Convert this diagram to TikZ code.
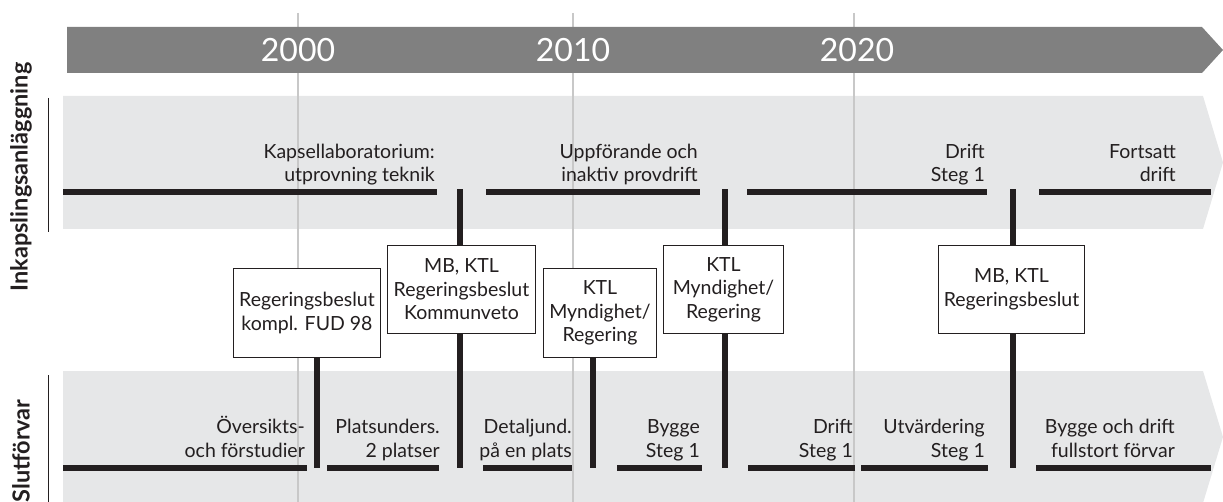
\documentclass[tikz,border=0pt]{standalone}
\usepackage{fontspec}
\setmainfont{Lato}
\definecolor{darkband}{HTML}{808080}
\definecolor{lightband}{HTML}{E6E7E8}
\definecolor{gridgray}{HTML}{C8C8C8}
\definecolor{ink}{HTML}{231F20}
\begin{document}
\begin{tikzpicture}[x=1pt,y=-1pt,
  bar/.style={line width=6pt, ink},
  conn/.style={line width=6pt, ink},
  grid/.style={gridgray, line width=1.3pt},
  box/.style={draw=ink, line width=1.3pt, fill=white, align=center, inner sep=0pt, text=ink, font=\fontsize{19.5}{23.5}\selectfont},
  lbl/.style={anchor=base east, inner sep=0pt, text=ink, font=\fontsize{19.5}{23.5}\selectfont},
  year/.style={white, inner sep=0pt, font=\fontsize{32}{36}\selectfont},
  side/.style={rotate=90, inner sep=0pt, text=ink, font=\bfseries\fontsize{23.5}{26}\selectfont}]
\useasboundingbox (0,0) rectangle (1223,502);
% bands
\fill[lightband] (63,96) -- (1203,96) -- (1223,162.5) -- (1203,229) -- (63,229) -- cycle;
\fill[lightband] (63,371) -- (1203,371) -- (1223,437) -- (1203,503) -- (63,503) -- cycle;
% year grid lines
\draw[grid] (298,13) -- (298,502);
\draw[grid] (573,13) -- (573,502);
\draw[grid] (854,13) -- (854,502);
% time arrow
\fill[darkband] (67,27) -- (1202,27) -- (1223,50) -- (1202,73) -- (67,73) -- cycle;
\node[year] (y2000) at (298,50) {2000};
\node[year] (y2010) at (573,50) {2010};
\node[year] (y2020) at (857,50) {2020};
% side labels
\node[side] (sideA) at (21,177) {Inkapslingsanläggning};
\node[side] (sideB) at (21,451) {Slutförvar};
\draw[ink, line width=1pt] (48,98) -- (48,232);
\draw[ink, line width=1pt] (48,375) -- (48,502);
% upper bars
\draw[bar] (63,192) -- (437,192);
\draw[bar] (486,192) -- (700,192);
\draw[bar] (747,192) -- (987,192);
\draw[bar] (1039,192) -- (1211,192);
% lower bars
\draw[bar] (63,468) -- (307,468);
\draw[bar] (327,468) -- (439,468);
\draw[bar] (483,468) -- (572,468);
\draw[bar] (617,468) -- (702,468);
\draw[bar] (748,468) -- (855,468);
\draw[bar] (861,468) -- (988,468);
\draw[bar] (1036,468) -- (1211,468);
% upper labels
\node[lbl] (u1) at (435,182) {\begin{tabular}[b]{@{}r@{}}Kapsellaboratorium:\\utprovning teknik\end{tabular}};
\node[lbl] (u2) at (698,182) {\begin{tabular}[b]{@{}r@{}}Uppförande och\\inaktiv provdrift\end{tabular}};
\node[lbl] (u3) at (985,182) {\begin{tabular}[b]{@{}r@{}}Drift\\Steg 1\end{tabular}};
\node[lbl] (u4) at (1176,182) {\begin{tabular}[b]{@{}r@{}}Fortsatt\\drift\end{tabular}};
% lower labels
\node[lbl] (l1) at (305,457) {\begin{tabular}[b]{@{}r@{}}Översikts-\\och förstudier\end{tabular}};
\node[lbl] (l2) at (440,457) {\begin{tabular}[b]{@{}r@{}}Platsunders.\\2 platser\end{tabular}};
\node[lbl] (l3) at (572,457) {\begin{tabular}[b]{@{}r@{}}Detaljund.\\på en plats\end{tabular}};
\node[lbl] (l4) at (700,457) {\begin{tabular}[b]{@{}r@{}}Bygge\\Steg 1\end{tabular}};
\node[lbl] (l5) at (853,457) {\begin{tabular}[b]{@{}r@{}}Drift\\Steg 1\end{tabular}};
\node[lbl] (l6) at (985,457) {\begin{tabular}[b]{@{}r@{}}Utvärdering\\Steg 1\end{tabular}};
\node[lbl] (l7) at (1175,457) {\begin{tabular}[b]{@{}r@{}}Bygge och drift\\fullstort förvar\end{tabular}};
% decision boxes
\node[box, minimum width=147pt, minimum height=89pt] (A) at (307,313) {Regeringsbeslut\\kompl. FUD 98};
\node[box, minimum width=148pt, minimum height=88pt] (B) at (461.5,289.5) {MB, KTL\\Regeringsbeslut\\Kommunveto};
\node[box, minimum width=113pt, minimum height=89pt] (C) at (600,313) {KTL\\Myndighet/\\Regering};
\node[box, minimum width=120pt, minimum height=88pt] (D) at (723.5,289.5) {KTL\\Myndighet/\\Regering};
\node[box, minimum width=146pt, minimum height=88pt] (E) at (1011.5,289.5) {MB, KTL\\Regeringsbeslut};
% connector end points
\coordinate (ut) at (0,189);
\coordinate (cA) at (317,468);
\coordinate (cB) at (460,468);
\coordinate (cC) at (593,468);
\coordinate (cD) at (725,468);
\coordinate (cE) at (1013,468);
% connectors
\draw[conn] (B.north -| cB) -- (cB |- ut);
\draw[conn] (D.north -| cD) -- (cD |- ut);
\draw[conn] (E.north -| cE) -- (cE |- ut);
\draw[conn] (A.south -| cA) -- (cA);
\draw[conn] (B.south -| cB) -- (cB);
\draw[conn] (C.south -| cC) -- (cC);
\draw[conn] (D.south -| cD) -- (cD);
\draw[conn] (E.south -| cE) -- (cE);
\end{tikzpicture}
\end{document}
